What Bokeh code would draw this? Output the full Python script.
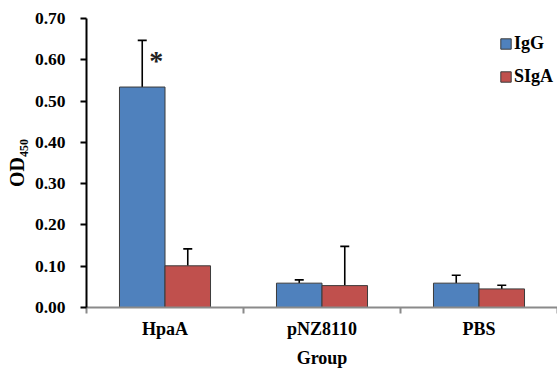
from bokeh.plotting import figure
from bokeh.models import (ColumnDataSource, FixedTicker, NumeralTickFormatter, Whisker,
                          TeeHead, Legend, LegendItem, Range1d)
from bokeh.core.properties import value
from bokeh.embed import file_html
from bokeh.resources import INLINE

# ---- data ----
groups = ["HpaA", "pNZ8110", "PBS"]
series_names = ["IgG", "SIgA"]
igg = [0.534, 0.059, 0.059]
igg_err = [0.113, 0.008, 0.019]
siga = [0.101, 0.053, 0.045]
siga_err = [0.041, 0.095, 0.009]
y_ticks = [0.0, 0.1, 0.2, 0.3, 0.4, 0.5, 0.6, 0.7]
y_label = "OD\u2084\u2085\u2080"   # OD with subscript 450
x_label = "Group"
star = "*"

colors = ["#4F81BD", "#C0504D"]
FONT = "Liberation Serif"
W, H = 557, 370
BAR_W = 0.29
OFF = 0.145

centers = [i + 0.5 for i in range(len(groups))]
bounds = list(range(len(groups) + 1))

p = figure(width=W, height=H, output_backend="svg", toolbar_location=None,
           x_range=Range1d(0, len(groups)), y_range=Range1d(0, 0.70),
           min_border_left=86, min_border_right=0, min_border_top=18, min_border_bottom=61)
p.outline_line_color = None
p.xgrid.visible = False
p.ygrid.visible = False
p.background_fill_color = "white"
p.border_fill_color = "white"

renderers = []
for vals, errs, off, col in [(igg, igg_err, -OFF, colors[0]), (siga, siga_err, OFF, colors[1])]:
    xs = [c + off for c in centers]
    src = ColumnDataSource(dict(x=xs, top=vals, hi=[v + e for v, e in zip(vals, errs)]))
    r = p.vbar(x="x", top="top", width=BAR_W, source=src, fill_color=col,
               line_color="#3b3b3b", line_width=1)
    renderers.append(r)
    w = Whisker(base="x", lower="top", upper="hi", source=src, dimension="height",
                line_color="black", line_width=1.6, lower_head=None,
                upper_head=TeeHead(size=9, line_color="black", line_width=1.6))
    p.add_layout(w)

# asterisk over HpaA IgG
p.text(x=[centers[0] - OFF], y=[igg[0] + igg_err[0]], text=[star],
       text_font=value(FONT), text_font_style="bold", text_font_size="28px",
       text_align="center", text_baseline="middle", x_offset=14, y_offset=20,
       text_color="#222222")

# y axis
ya = p.yaxis[0]
ya.ticker = FixedTicker(ticks=y_ticks)
ya.formatter = NumeralTickFormatter(format="0.00")
ya.axis_line_width = 2
ya.axis_line_color = "black"
ya.major_tick_line_width = 2
ya.major_tick_line_color = "black"
ya.major_tick_out = 6
ya.major_tick_in = 0
ya.minor_tick_line_color = None
ya.major_label_standoff = 15
ya.major_label_text_font = FONT
ya.major_label_text_font_style = "bold"
ya.major_label_text_font_size = "17.5px"
ya.major_label_text_color = "black"
ya.axis_label = y_label
ya.axis_label_standoff = 4
ya.axis_label_text_font = FONT
ya.axis_label_text_font_style = "bold"
ya.axis_label_text_font_size = "20px"
ya.axis_label_text_color = "black"

# x axis
xa = p.xaxis[0]
xa.ticker = FixedTicker(ticks=centers, minor_ticks=bounds)
xa.major_label_overrides = {c: g for c, g in zip(centers, groups)}
xa.axis_line_color = "#8a8a8a"
xa.axis_line_width = 2
xa.major_tick_line_color = None
xa.major_tick_out = 6
xa.major_tick_in = 0
xa.minor_tick_line_color = "#8a8a8a"
xa.minor_tick_line_width = 2
xa.minor_tick_out = 6
xa.minor_tick_in = 0
xa.major_label_standoff = 5
xa.major_label_text_font = FONT
xa.major_label_text_font_style = "bold"
xa.major_label_text_font_size = "18px"
xa.major_label_text_color = "black"
xa.axis_label = x_label
xa.axis_label_standoff = 6
xa.axis_label_text_font = FONT
xa.axis_label_text_font_style = "bold"
xa.axis_label_text_font_size = "18px"
xa.axis_label_text_color = "black"

legend = Legend(items=[LegendItem(label=n, renderers=[r]) for n, r in zip(series_names, renderers)],
                location=(413, 220), padding=0, margin=0, spacing=12,
                glyph_width=13, glyph_height=13, label_standoff=2,
                label_text_font=FONT, label_text_font_style="bold",
                label_text_font_size="18px", label_text_color="black",
                border_line_color=None, background_fill_alpha=0)
p.add_layout(legend)

open("out.html", "w").write(file_html(p, INLINE))
